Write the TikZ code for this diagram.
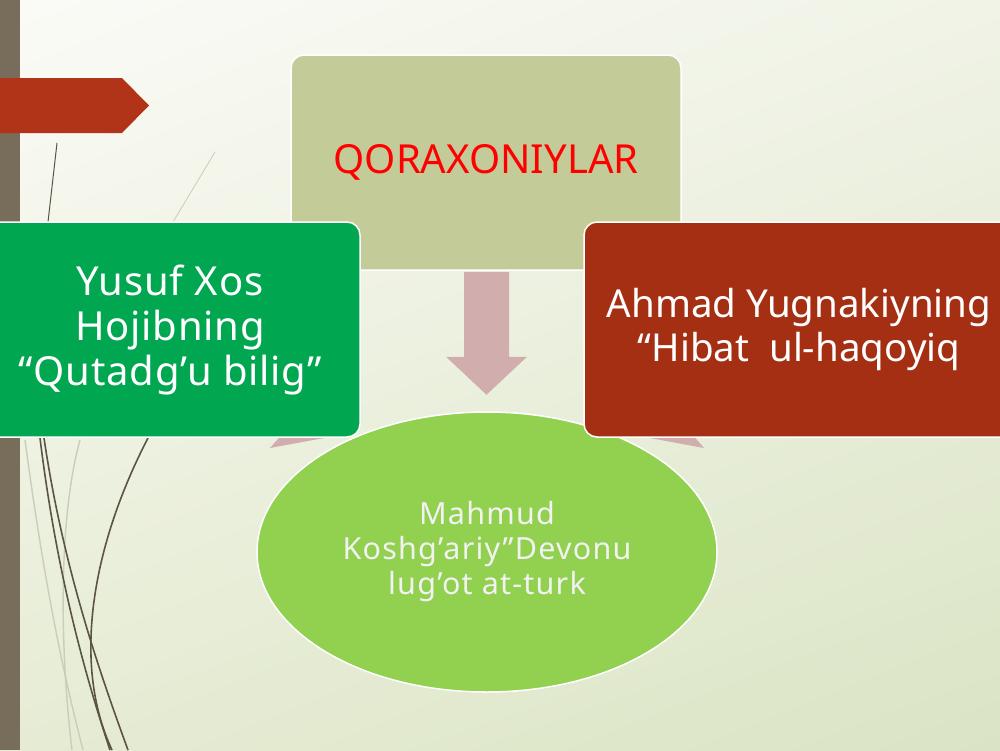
\documentclass[tikz,border=0pt]{standalone}
\usepackage{fontspec}
\setmainfont{Noto Sans}
\newfontfamily\wideA[LetterSpace=2]{Noto Sans}
\newfontfamily\wideB[LetterSpace=4]{Noto Sans}
\usetikzlibrary{calc,shapes.geometric,shadings}
\definecolor{bgUL}{HTML}{FBFBF7}
\definecolor{bgUR}{HTML}{F0F3E6}
\definecolor{bgLL}{HTML}{E6ECD4}
\definecolor{bgLR}{HTML}{DAE4C4}
\definecolor{barcol}{HTML}{776D5A}
\definecolor{redarrow}{HTML}{B23418}
\definecolor{topbox}{HTML}{C3CC99}
\definecolor{greenbox}{HTML}{00A650}
\definecolor{redbox}{HTML}{A52F12}
\definecolor{ellcol}{HTML}{92D050}
\definecolor{pinkarrow}{HTML}{D1ADAD}
\definecolor{curvedark}{HTML}{5C5443}
\definecolor{curvelight}{HTML}{C9CDB9}
\definecolor{elltext}{HTML}{F2F2F2}
\tikzset{
  slidebox/.style={draw=white, line width=1.5pt, rounded corners=13pt, align=center,
    minimum height=215pt, inner sep=0pt},
  blockarrow/.style={fill=pinkarrow, draw=none},
  darkcurve/.style={draw=curvedark, line width=1.6pt},
  lightcurve/.style={draw=curvelight, line width=1.4pt},
}
\begin{document}
\begin{tikzpicture}[x=1pt,y=-1pt]
\useasboundingbox (0,0) rectangle (1000,750);
\clip (0,0) rectangle (1000,750);
% background
\shade[upper left=bgUL, upper right=bgUR, lower left=bgLL, lower right=bgLR] (0,0) rectangle (1000,750);
% left bar
\fill[barcol] (0,0) rectangle (20,750);
% decorative curves
\draw[lightcurve, line width=0.8pt] (215,152) -- (173,222);
\draw[darkcurve, line width=1pt] (57,143) -- (48,222);
\draw[lightcurve] (25,440) .. controls (45,590) and (65,680) .. (83,750);
\draw[lightcurve] (80,440) .. controls (58,520) and (60,650) .. (72,750);
\draw[darkcurve] (40,438) .. controls (55,560) and (80,660) .. (110,750);
\draw[darkcurve] (44,438) .. controls (62,560) and (95,660) .. (128,750);
\draw[darkcurve] (148,438) .. controls (95,540) and (70,660) .. (112,750);
% red arrow top-left
\fill[redarrow] (0,78) -- (122,78) -- (149,105.5) -- (122,133) -- (0,133) -- cycle;
% side arrows (partly hidden)
\fill[blockarrow] (270,448) -- (290,425) -- (335,425) -- (335,436) -- cycle;
\fill[blockarrow] (704,448) -- (684,425) -- (639,425) -- (639,436) -- cycle;
% nodes
\node[slidebox, fill=topbox, minimum width=390pt, text=red, font=\fontsize{40}{45}\selectfont] (top) at (486,162.5) {QORAXONIYLAR};
\node[ellipse, draw=white, line width=1.5pt, fill=ellcol, minimum width=460pt, minimum height=280pt,
  align=center, text=elltext, font=\wideB\fontsize{30.5}{35}\selectfont, inner sep=0pt] (mahmud) at (487,552)
  {Mahmud\\Koshg’ariy”Devonu\\lug’ot at-turk};
\node[slidebox, fill=greenbox, minimum width=380pt, text=white, font=\wideA\fontsize{40}{45}\selectfont] (yusuf) at (170,329.5)
  {Yusuf Xos\\Hojibning\\“Qutadg’u bilig”};
\node[slidebox, fill=redbox, minimum width=430pt, text=white, font=\fontsize{38.5}{44}\selectfont] (ahmad) at (799,329.5)
  {Ahmad Yugnakiyning\\“Hibat\ \ ul-haqoyiq};
% down arrow from top box to ellipse
\fill[blockarrow] ($(top.south)+(-22,1)$) -- ($(top.south)+(23,1)$) -- ($(top.south)+(23,86)$)
  -- ($(top.south)+(41,86)$) -- ($(top.south)+(0.5,124)$) -- ($(top.south)+(-40,86)$)
  -- ($(top.south)+(-22,86)$) -- cycle;
\end{tikzpicture}
\end{document}
